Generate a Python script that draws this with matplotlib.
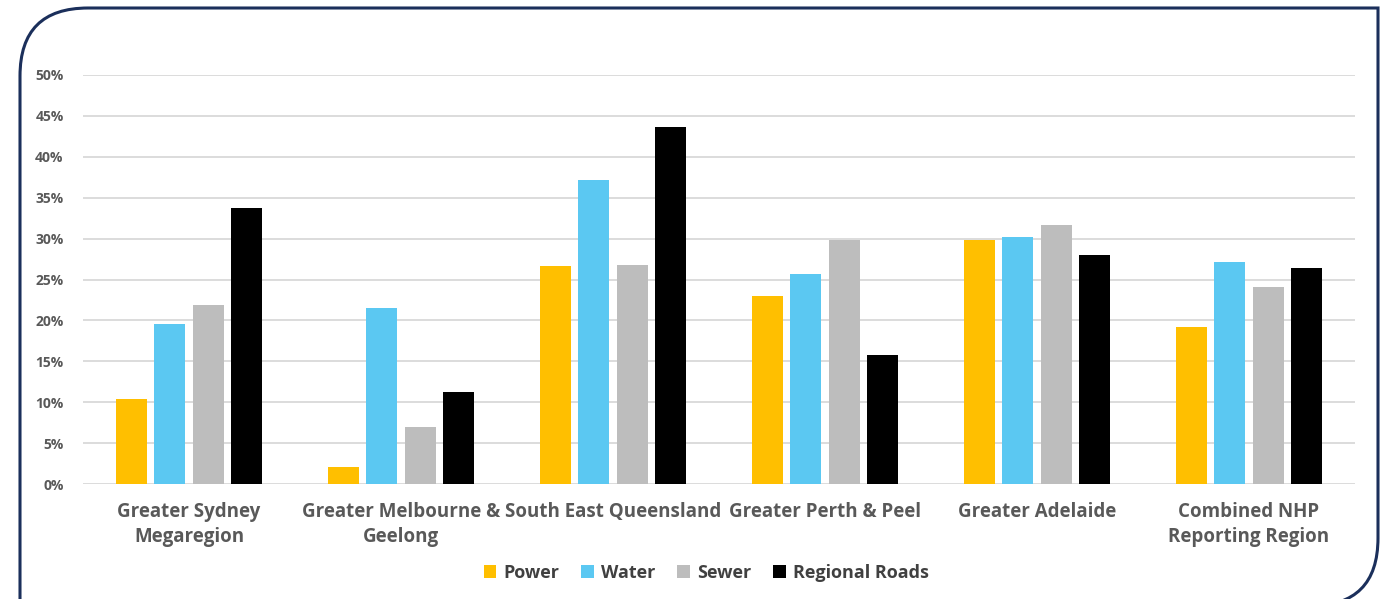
import matplotlib
matplotlib.use("Agg")
import matplotlib.pyplot as plt
import numpy as np
from matplotlib.path import Path
from matplotlib.patches import PathPatch

regions = ["Greater Sydney\nMegaregion", "Greater Melbourne &\nGeelong",
           "South East Queensland", "Greater Perth & Peel",
           "Greater Adelaide", "Combined NHP\nReporting Region"]
series = ["Power", "Water", "Sewer", "Regional Roads"]
power = [10.4, 2.1, 26.7, 23.0, 29.8, 19.2]
water = [19.6, 21.5, 37.2, 25.7, 30.2, 27.1]
sewer = [21.9, 7.0, 26.8, 29.8, 31.7, 24.1]
roads = [33.7, 11.2, 43.6, 15.8, 28.0, 26.4]
colors = ["#FFBF00", "#5BC8F2", "#BDBDBD", "#000000"]

plt.rcParams['font.family'] = ['Open Sans', 'DejaVu Sans']

W, H = 1394, 599
fig = plt.figure(figsize=(W / 100, H / 100), dpi=100)

# frame with rounded top-left and bottom-right corners
bg = fig.add_axes([0, 0, 1, 1])
bg.set_xlim(0, W)
bg.set_ylim(H, 0)
bg.axis("off")
x0, x1, y0, y1, r = 20, 1378, 8, 606, 68
verts = [(x0, y1 + 20), (x0, y0 + r), (x0, y0), (x0 + r, y0), (x1, y0),
         (x1, y1 - r), (x1, y1), (x1 - r, y1)]
codes = [Path.MOVETO, Path.LINETO, Path.CURVE3, Path.CURVE3, Path.LINETO,
         Path.LINETO, Path.CURVE3, Path.CURVE3]
bg.add_patch(PathPatch(Path(verts, codes), fill=False, edgecolor="#1B2F5B", lw=2.2))

ax = fig.add_axes([83 / W, (H - 484) / H, 1272 / W, 409 / H])
x = np.arange(len(regions))
width = 0.146
step = 0.182
for i, (name, vals) in enumerate(zip(series, [power, water, sewer, roads])):
    ax.bar(x + (i - 1.5) * step, np.array(vals) / 100, width, color=colors[i],
           label=name, zorder=3)

ax.set_xlim(-0.5, len(regions) - 0.5)
ax.set_ylim(0, 0.5)
ax.set_yticks(np.arange(0, 0.51, 0.05))
ax.set_yticklabels([f"{int(round(v * 100))}%" for v in np.arange(0, 0.51, 0.05)])
ax.grid(axis="y", color="#D9D9D9", lw=1.3, zorder=0)
for s in ax.spines.values():
    s.set_visible(False)
ax.tick_params(axis="y", length=0, pad=14, labelsize=10, labelcolor="#595959")
ax.tick_params(axis="x", length=0, pad=13, labelsize=13.5, labelcolor="#595959")
for t in ax.get_yticklabels():
    t.set_fontweight("bold")
ax.set_xticks(x)
ax.set_xticklabels(regions, fontweight="bold", linespacing=1.35)

leg = ax.legend(loc="center", bbox_to_anchor=(0.49, -0.217), ncol=4, frameon=False,
                handlelength=0.7, handleheight=0.7, handletextpad=0.4, columnspacing=1.2,
                prop={"weight": "bold", "size": 13})
for t in leg.get_texts():
    t.set_color("#404040")

fig.savefig("out.png", dpi=100)
